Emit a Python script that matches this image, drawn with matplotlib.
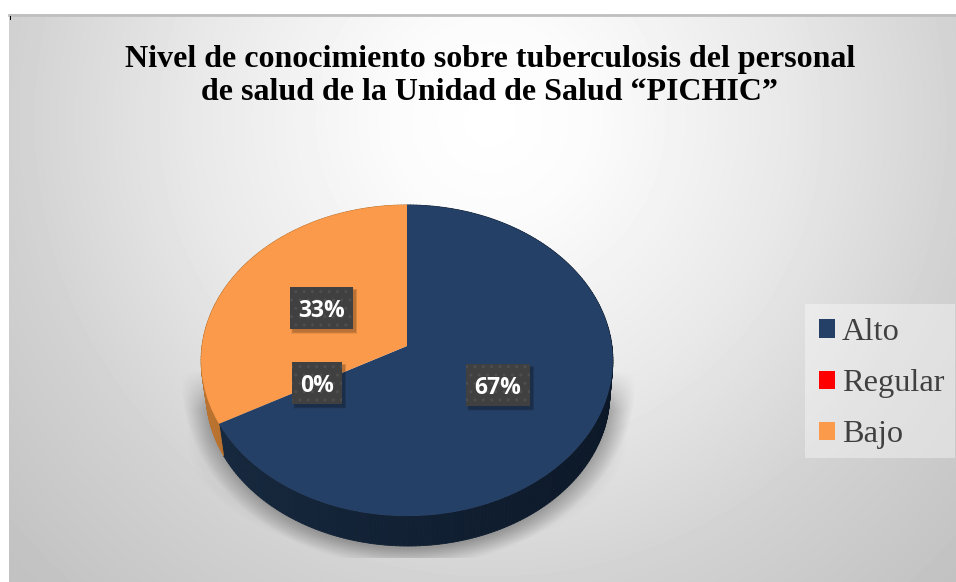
import numpy as np
import matplotlib
matplotlib.use("Agg")
import matplotlib.pyplot as plt
from matplotlib.collections import PolyCollection
from matplotlib.patches import Rectangle
from matplotlib.transforms import Transform

plt.rcParams['font.family'] = ['Liberation Serif', 'DejaVu Sans']

categorias = ["Alto", "Regular", "Bajo"]
valores = [67, 0, 33]
colores = ["#254066", "#FF0000", "#FB9A4A"]
colores_lado = [("#0C1828", "#17293F"), ("#CC0000", "#CC0000"), ("#C47A35", "#B9722F")]
titulo = "Nivel de conocimiento sobre tuberculosis del personal\nde salud de la Unidad de Salud \u201cPICHIC\u201d"


class VistaPie(Transform):
    # disco unidad -> pixeles, con algo de perspectiva
    input_dims = 2
    output_dims = 2
    is_separable = False
    has_inverse = False

    def __init__(self, cx, cy, ax_, ay_, b):
        super().__init__()
        self.cx, self.cy, self.ax_, self.ay_, self.b = cx, cy, ax_, ay_, b

    def transform_non_affine(self, values):
        v = np.asarray(values, dtype=float)
        d = 1 + self.b * v[:, 1]
        return np.column_stack((self.cx + self.ax_ * v[:, 0] / d, self.cy - self.ay_ * v[:, 1] / d))


fig = plt.figure(figsize=(9.56, 5.82), dpi=100)
ax = fig.add_axes([0, 0, 1, 1])

# fondo degradado
yy, xx = np.mgrid[14:582, 9:956]
r = np.hypot(xx - 490, yy - 120)
gris = np.interp(r, [0, 100, 300, 480, 650, 720], [1.0, 0.985, 0.91, 0.82, 0.76, 0.75])
ax.imshow(gris, cmap='gray', vmin=0, vmax=1, extent=(9, 956, 582, 14), aspect='auto', zorder=0)
ax.plot([9, 956], [15, 15], color='#BFBFBF', lw=2, zorder=1)
ax.add_patch(Rectangle((10, 16), 1.2, 4, color='black', lw=0, zorder=1))

# sombra bajo el pastel: una cerca del borde y otra muy suave mas ancha
d1 = np.hypot((xx - 408) / 205, (yy - 380) / 168)
d2 = np.hypot((xx - 407) / 222, (yy - 437) / 122)
alfa = 0.26 * np.clip(1 - (d1 - 1) / 0.11, 0, 1) * np.clip((yy - 370) / 40, 0, 1)
alfa = alfa + 0.05 * np.clip((1 - d2) / 0.1, 0, 1) * np.clip((yy - 375) / 65, 0, 1)
alfa = alfa * (yy < 558)
rgba = np.zeros(alfa.shape + (4,))
rgba[..., 3] = alfa
ax.imshow(rgba, extent=(9, 956, 582, 14), aspect='auto', zorder=1)

vista_top = VistaPie(407, 346, 205, 154.2, 0.0932)
vista_base = VistaPie(408, 379.4, 201, 151.1, 0.0932)

# lado del pastel
inicio = 0.0
total = sum(valores)
for val, (c1, c2) in zip(valores, colores_lado):
    fin = inicio + 360 * val / total
    if val > 0:
        th = np.radians(np.arange(inicio, fin + 1, 1.0))
        th[-1] = np.radians(fin)
        p = np.column_stack((np.sin(th), np.cos(th)))
        arriba = vista_top.transform_non_affine(p)
        abajo = vista_base.transform_non_affine(p)
        polys = [[arriba[i], arriba[i + 1], abajo[i + 1], abajo[i]] for i in range(len(th) - 1)]
        xs = (arriba[:-1, 0] - 200) / 415
        c_a = np.array(matplotlib.colors.to_rgb(c2))
        c_b = np.array(matplotlib.colors.to_rgb(c1))
        cols = [c_a + (c_b - c_a) * np.clip(t, 0, 1) for t in xs]
        ax.add_collection(PolyCollection(polys, facecolors=cols, edgecolors=cols, linewidths=0.6, zorder=2))
    inicio = fin

# cara superior
wedges, _ = ax.pie(valores, colors=colores, startangle=90, counterclock=False, radius=1)
for w in wedges:
    w.set_transform(vista_top + ax.transData)
    w.set_zorder(3)

ax.set_aspect('auto')
ax.set_xlim(0, 956)
ax.set_ylim(582, 0)
ax.axis('off')

# etiquetas de porcentaje
cajas = [(466, 364, 64, 42), (292, 362, 50, 42), (290, 287, 63, 42)]
for val, (x0, y0, w, h) in zip(valores, cajas):
    for k in (5, 4, 3, 2):
        ax.add_patch(Rectangle((x0 + 3 - k / 2 + 1, y0 + 3 - k / 2 + 1), w + k - 2, h + k - 2, color='black',
                               alpha=0.07, lw=0, zorder=4))
    ax.add_patch(Rectangle((x0, y0), w, h, facecolor='#404040', edgecolor='#4E4E4E', hatch='..', lw=0, zorder=5))
    ax.text(x0 + w / 2, y0 + h / 2 + 3, f"{val / total:.0%}", color='white', ha='center', va='center',
            family='Open Sans', fontweight='bold', fontsize=16.5, zorder=6)

ax.text(490, 76, titulo, ha='center', va='center', fontsize=23, fontweight='bold', color='black',
        linespacing=1.2, zorder=6)

# leyenda
ax.add_patch(Rectangle((805, 304), 150, 154, facecolor='white', alpha=0.38, lw=0, zorder=5))
leg = ax.legend(wedges, categorias, loc='upper left', bbox_to_anchor=(819 / 956, 1 - 318 / 582), fontsize=23.3,
                frameon=False, handlelength=0.495, handleheight=0.495, handletextpad=0.216, labelspacing=0.687,
                borderaxespad=0, borderpad=0, labelcolor='#404040')
leg.set_zorder(6)

fig.savefig("out.png", dpi=100)
